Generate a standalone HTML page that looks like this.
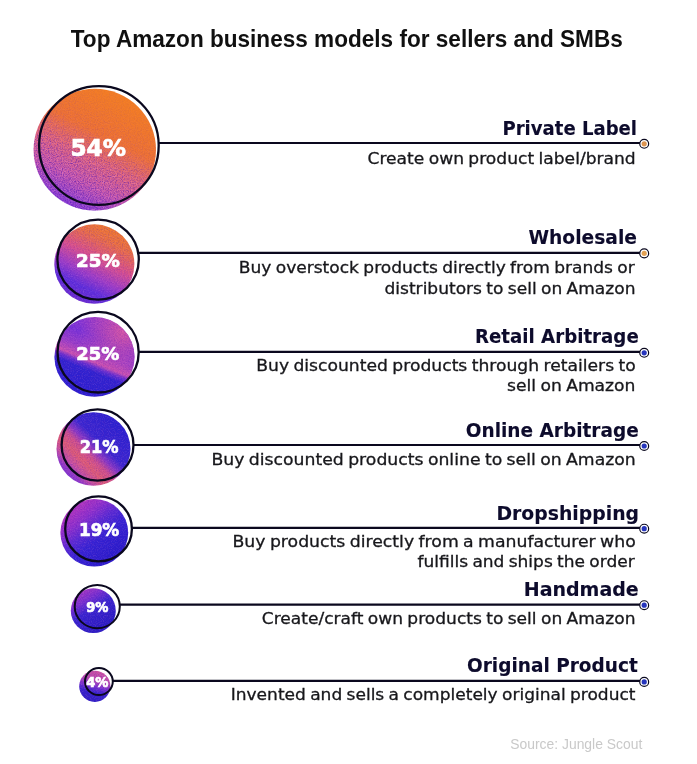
<!DOCTYPE html>
<html lang="en"><head><meta charset="utf-8"><title>Top Amazon business models for sellers and SMBs</title>
<style>
html,body{margin:0;padding:0;background:#fff;}
body{width:697px;height:764px;overflow:hidden;}
svg{display:block;}
text{white-space:pre;}
.title{font-family:"Liberation Sans",sans-serif;font-weight:700;font-size:24px;fill:#101010;}
.head{font-family:"DejaVu Sans","Liberation Sans",sans-serif;font-weight:700;font-size:18.8px;fill:#0d0b2c;stroke:#0d0b2c;stroke-width:0.1px;}
.desc{font-family:"DejaVu Sans","Liberation Sans",sans-serif;font-weight:400;font-size:15.8px;fill:#17171b;stroke:#17171b;stroke-width:0.3px;word-spacing:-1px;}
.pct{font-family:"DejaVu Sans","Liberation Sans",sans-serif;font-weight:700;fill:#fff;stroke:#fff;stroke-width:0.7px;}
.src{font-family:"Liberation Sans",sans-serif;font-size:14.5px;fill:#c9c9c9;}
</style></head><body>
<svg width="697" height="764" viewBox="0 0 697 764">
<defs>
<linearGradient id="fade1" x1="0.75" y1="0.1" x2="0.3" y2="1"><stop offset="0" stop-color="#fff" stop-opacity="0.1"/><stop offset="0.35" stop-color="#fff" stop-opacity="0.25"/><stop offset="0.6" stop-color="#fff" stop-opacity="0.9"/><stop offset="1" stop-color="#fff" stop-opacity="1"/></linearGradient>
<linearGradient id="fadeU" x1="0" y1="0" x2="0" y2="1"><stop offset="0" stop-color="#fff" stop-opacity="0.4"/><stop offset="1" stop-color="#fff" stop-opacity="0.4"/></linearGradient>
<linearGradient id="g1" x1="0.75" y1="0.1" x2="0.3" y2="1"><stop offset="0" stop-color="#f37d24"/><stop offset="0.33" stop-color="#ef7232"/><stop offset="0.55" stop-color="#e2667a"/><stop offset="0.75" stop-color="#c858ac"/><stop offset="0.9" stop-color="#9844cc"/><stop offset="1" stop-color="#7a32d8"/></linearGradient>
<linearGradient id="g2" x1="0.78" y1="0.03" x2="0.3" y2="0.97"><stop offset="0" stop-color="#f37c26"/><stop offset="0.2" stop-color="#ec7040"/><stop offset="0.45" stop-color="#d8508e"/><stop offset="0.65" stop-color="#a03ec6"/><stop offset="0.82" stop-color="#5e2edc"/><stop offset="1" stop-color="#6a2cd0"/></linearGradient>
<linearGradient id="g3" x1="0.7" y1="0.0" x2="0.3" y2="1"><stop offset="0" stop-color="#9a3ccc"/><stop offset="0.28" stop-color="#7a32d8"/><stop offset="0.44" stop-color="#9c3ec8"/><stop offset="0.56" stop-color="#cc52b0"/><stop offset="0.61" stop-color="#6a30d0"/><stop offset="0.67" stop-color="#3022d0"/><stop offset="1" stop-color="#2a1ed0"/></linearGradient>
<radialGradient id="x3" cx="0.85" cy="0.2" r="0.55"><stop offset="0" stop-color="#d858a4" stop-opacity="0.95"/><stop offset="0.5" stop-color="#d050a8" stop-opacity="0.5"/><stop offset="1" stop-color="#c84cb0" stop-opacity="0"/></radialGradient>
<linearGradient id="g4" x1="0.85" y1="0.15" x2="0.15" y2="0.85"><stop offset="0" stop-color="#2a20d0"/><stop offset="0.38" stop-color="#3a26d0"/><stop offset="0.5" stop-color="#8a38c4"/><stop offset="0.6" stop-color="#d0508c"/><stop offset="0.72" stop-color="#e05c74"/><stop offset="0.85" stop-color="#c850a0"/><stop offset="0.95" stop-color="#9038c8"/><stop offset="1" stop-color="#8434cc"/></linearGradient>
<linearGradient id="g5" x1="0.1" y1="0.1" x2="0.7" y2="0.85"><stop offset="0" stop-color="#c034b8"/><stop offset="0.3" stop-color="#9030cc"/><stop offset="0.5" stop-color="#5a2ad4"/><stop offset="0.7" stop-color="#3422d4"/><stop offset="1" stop-color="#2a1ccc"/></linearGradient>
<linearGradient id="g6" x1="0.15" y1="0.05" x2="0.65" y2="0.85"><stop offset="0" stop-color="#b038c0"/><stop offset="0.3" stop-color="#7a30d0"/><stop offset="0.55" stop-color="#3824d0"/><stop offset="1" stop-color="#2a1cc4"/></linearGradient>
<linearGradient id="g7" x1="0.6" y1="0" x2="0.35" y2="1"><stop offset="0" stop-color="#d054a0"/><stop offset="0.3" stop-color="#b848b0"/><stop offset="0.5" stop-color="#7a30d0"/><stop offset="0.68" stop-color="#3622cc"/><stop offset="1" stop-color="#2c1cc4"/></linearGradient>

<filter id="grain" x="-5%" y="-5%" width="110%" height="110%" color-interpolation-filters="sRGB"><feTurbulence type="fractalNoise" baseFrequency="0.85" numOctaves="2" seed="7" result="n"/><feColorMatrix in="n" type="matrix" values="0 0 0 0 0.96  0 0 0 0 0.6  0 0 0 0 0.86  1.2 0 0 0 -0.54" result="w"/><feComposite in="w" in2="SourceGraphic" operator="in" result="wi"/><feColorMatrix in="n" type="matrix" values="0 0 0 0 0.3  0 0 0 0 0.08  0 0 0 0 0.7  0 1.5 0 0 -0.62" result="d"/><feComposite in="d" in2="SourceGraphic" operator="in" result="di"/><feMerge><feMergeNode in="wi"/><feMergeNode in="di"/></feMerge></filter>
</defs>
<rect width="697" height="764" fill="#fff"/>
<text id="title" class="title" x="70.75" y="46.5" textLength="552.00" lengthAdjust="spacingAndGlyphs">Top Amazon business models for sellers and SMBs</text>
<g>
<ellipse cx="94.8" cy="149.7" rx="61.2" ry="60.9" fill="url(#g1)"/>
<ellipse cx="94.8" cy="149.7" rx="61.2" ry="60.9" fill="url(#fade1)" filter="url(#grain)"/>
<line x1="158.7" y1="143.0" x2="640.2" y2="143.0" stroke="#0a081e" stroke-width="2.2"/>
<ellipse cx="98.9" cy="145.5" rx="59.8" ry="59.4" fill="none" stroke="#0a081e" stroke-width="2.3"/>
<circle cx="644.2" cy="143.8" r="4.45" fill="#fff" stroke="#0a081e" stroke-width="1.2"/>
<circle cx="644.2" cy="143.8" r="2.6" fill="#dc9450"/>
<text id="p1" class="pct" x="70.46" y="156.1" textLength="55.55" lengthAdjust="spacingAndGlyphs" font-size="22.5">54%</text>
<text id="h1" class="head" x="502.48" y="134.6" textLength="134.55" lengthAdjust="spacingAndGlyphs">Private Label</text>
<text id="d1a" class="desc" x="367.49" y="164.0" textLength="268.26" lengthAdjust="spacingAndGlyphs">Create own product label/brand</text>
</g>
<g>
<ellipse cx="94.35" cy="264.1" rx="40.05" ry="39.75" fill="url(#g2)"/>
<ellipse cx="94.35" cy="264.1" rx="40.05" ry="39.75" fill="url(#fadeU)" filter="url(#grain)"/>
<line x1="138.8" y1="252.8" x2="640.2" y2="252.8" stroke="#0a081e" stroke-width="2.2"/>
<ellipse cx="98.1" cy="259.6" rx="40.7" ry="40.0" fill="none" stroke="#0a081e" stroke-width="2.3"/>
<circle cx="644.2" cy="253.4" r="4.45" fill="#fff" stroke="#0a081e" stroke-width="1.2"/>
<circle cx="644.2" cy="253.4" r="2.6" fill="#e2a052"/>
<text id="p2" class="pct" x="75.97" y="266.8" textLength="43.79" lengthAdjust="spacingAndGlyphs" font-size="18.5">25%</text>
<text id="h2" class="head" x="528.50" y="243.6" textLength="108.51" lengthAdjust="spacingAndGlyphs">Wholesale</text>
<text id="d2a" class="desc" x="238.75" y="273.0" textLength="396.00" lengthAdjust="spacingAndGlyphs">Buy overstock products directly from brands or</text>
<text id="d2b" class="desc" x="384.49" y="293.6" textLength="251.02" lengthAdjust="spacingAndGlyphs">distributors to sell on Amazon</text>
</g>
<g>
<ellipse cx="94.5" cy="356.9" rx="40.1" ry="39.9" fill="url(#g3)"/>
<ellipse cx="94.5" cy="356.9" rx="40.1" ry="39.9" fill="url(#x3)"/>
<ellipse cx="94.5" cy="356.9" rx="40.1" ry="39.9" fill="url(#fadeU)" filter="url(#grain)"/>
<line x1="138.7" y1="351.9" x2="640.2" y2="351.9" stroke="#0a081e" stroke-width="2.2"/>
<ellipse cx="98.1" cy="352.2" rx="40.6" ry="40.3" fill="none" stroke="#0a081e" stroke-width="2.3"/>
<circle cx="644.2" cy="352.8" r="4.45" fill="#fff" stroke="#0a081e" stroke-width="1.2"/>
<circle cx="644.2" cy="352.8" r="2.6" fill="#2635bc"/>
<text id="p3" class="pct" x="76.20" y="360.0" textLength="43.06" lengthAdjust="spacingAndGlyphs" font-size="18.5">25%</text>
<text id="h3" class="head" x="474.98" y="343.2" textLength="163.77" lengthAdjust="spacingAndGlyphs">Retail Arbitrage</text>
<text id="d3a" class="desc" x="256.24" y="370.6" textLength="379.51" lengthAdjust="spacingAndGlyphs">Buy discounted products through retailers to</text>
<text id="d3b" class="desc" x="506.99" y="391.3" textLength="128.52" lengthAdjust="spacingAndGlyphs">sell on Amazon</text>
</g>
<g>
<ellipse cx="93.5" cy="449.05" rx="37.0" ry="36.75" fill="url(#g4)"/>
<ellipse cx="93.5" cy="449.05" rx="37.0" ry="36.75" fill="url(#fadeU)" filter="url(#grain)"/>
<line x1="133.5" y1="445.0" x2="640.2" y2="445.0" stroke="#0a081e" stroke-width="2.2"/>
<ellipse cx="97.55" cy="444.95" rx="35.95" ry="35.65" fill="none" stroke="#0a081e" stroke-width="2.3"/>
<circle cx="644.2" cy="446.0" r="4.45" fill="#fff" stroke="#0a081e" stroke-width="1.2"/>
<circle cx="644.2" cy="446.0" r="2.6" fill="#2635bc"/>
<text id="p4" class="pct" x="79.73" y="452.7" textLength="38.77" lengthAdjust="spacingAndGlyphs" font-size="18.5">21%</text>
<text id="h4" class="head" x="465.75" y="436.5" textLength="173.01" lengthAdjust="spacingAndGlyphs">Online Arbitrage</text>
<text id="d4a" class="desc" x="211.49" y="464.8" textLength="424.26" lengthAdjust="spacingAndGlyphs">Buy discounted products online to sell on Amazon</text>
</g>
<g>
<ellipse cx="94.3" cy="532.8" rx="33.9" ry="33.8" fill="url(#g5)"/>
<ellipse cx="94.3" cy="532.8" rx="33.9" ry="33.8" fill="url(#fadeU)" filter="url(#grain)"/>
<line x1="131.9" y1="527.85" x2="640.2" y2="527.85" stroke="#0a081e" stroke-width="2.2"/>
<ellipse cx="98.55" cy="528.9" rx="33.35" ry="32.5" fill="none" stroke="#0a081e" stroke-width="2.3"/>
<circle cx="644.2" cy="528.7" r="4.45" fill="#fff" stroke="#0a081e" stroke-width="1.2"/>
<circle cx="644.2" cy="528.7" r="2.6" fill="#2635bc"/>
<text id="p5" class="pct" x="78.92" y="536.2" textLength="40.34" lengthAdjust="spacingAndGlyphs" font-size="18.5">19%</text>
<text id="h5" class="head" x="496.48" y="519.6" textLength="142.54" lengthAdjust="spacingAndGlyphs">Dropshipping</text>
<text id="d5a" class="desc" x="232.49" y="546.6" textLength="403.26" lengthAdjust="spacingAndGlyphs">Buy products directly from a manufacturer who</text>
<text id="d5b" class="desc" x="417.50" y="567.0" textLength="217.25" lengthAdjust="spacingAndGlyphs">fulfills and ships the order</text>
</g>
<g>
<ellipse cx="93.3" cy="610.7" rx="22.5" ry="22.4" fill="url(#g6)"/>
<ellipse cx="93.3" cy="610.7" rx="22.5" ry="22.4" fill="url(#fadeU)" filter="url(#grain)"/>
<line x1="119.8" y1="604.55" x2="640.2" y2="604.55" stroke="#0a081e" stroke-width="2.2"/>
<ellipse cx="97.25" cy="606.6" rx="22.55" ry="21.6" fill="none" stroke="#0a081e" stroke-width="2.0"/>
<circle cx="644.2" cy="605.2" r="4.45" fill="#fff" stroke="#0a081e" stroke-width="1.2"/>
<circle cx="644.2" cy="605.2" r="2.6" fill="#2635bc"/>
<text id="p6" class="pct" x="86.25" y="612.0" textLength="22.25" lengthAdjust="spacingAndGlyphs" font-size="14">9%</text>
<text id="h6" class="head" x="523.73" y="595.8" textLength="115.03" lengthAdjust="spacingAndGlyphs">Handmade</text>
<text id="d6a" class="desc" x="261.75" y="623.7" textLength="373.76" lengthAdjust="spacingAndGlyphs">Create/craft own products to sell on Amazon</text>
</g>
<g>
<ellipse cx="94.8" cy="686.3" rx="15.6" ry="15.6" fill="url(#g7)"/>
<ellipse cx="94.8" cy="686.3" rx="15.6" ry="15.6" fill="url(#fadeU)" filter="url(#grain)"/>
<line x1="112.8" y1="680.9" x2="640.2" y2="680.9" stroke="#0a081e" stroke-width="2.2"/>
<ellipse cx="98.9" cy="681.55" rx="13.9" ry="13.5" fill="none" stroke="#0a081e" stroke-width="2.0"/>
<circle cx="644.2" cy="681.9" r="4.45" fill="#fff" stroke="#0a081e" stroke-width="1.2"/>
<circle cx="644.2" cy="681.9" r="2.6" fill="#2635bc"/>
<text id="p7" class="pct" x="86.25" y="687.3" textLength="22.25" lengthAdjust="spacingAndGlyphs" font-size="14">4%</text>
<text id="h7" class="head" x="467.00" y="672.1" textLength="170.75" lengthAdjust="spacingAndGlyphs">Original Product</text>
<text id="d7a" class="desc" x="230.74" y="699.6" textLength="404.76" lengthAdjust="spacingAndGlyphs">Invented and sells a completely original product</text>
</g>
<text id="src" class="src" x="510.25" y="749.2" textLength="132.00" lengthAdjust="spacingAndGlyphs">Source: Jungle Scout</text>
</svg></body></html>
